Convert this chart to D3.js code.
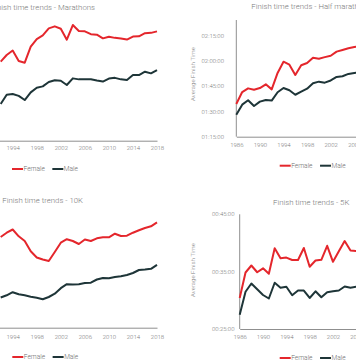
<!DOCTYPE html>
<html>
<head>
<meta charset="utf-8">
<script src="https://cdn.jsdelivr.net/npm/d3@7"></script>
<style>
  html, body { margin: 0; padding: 0; background: #ffffff; }
  svg { display: block; font-family: Roboto, "Noto Sans", sans-serif; font-weight: 300; }
</style>
</head>
<body>
<svg id="chart" width="356" height="364"></svg>
<script>
// ---------- data (minutes) ----------
const yearTicks = [1986, 1990, 1994, 1998, 2002, 2006, 2010, 2014, 2018];
const yearTickLabels = ["1986", "1990", "1994", "1998", "2002", "2006", "2010", "2014", "2018"];

// Marathons (visible years only)
const marathonYears = [1992, 1993, 1994, 1995, 1996, 1997, 1998, 1999, 2000, 2001, 2002, 2003, 2004, 2005,
  2006, 2007, 2008, 2009, 2010, 2011, 2012, 2013, 2014, 2015, 2016, 2017, 2018];
const marathonFemale = [257.4, 261.4, 264.1, 257.8, 256.8, 266.4, 271.0, 273.2, 277.4, 278.6, 277.2, 270.6, 279.4, 275.8,
  275.6, 273.9, 273.6, 271.4, 272.4, 271.7, 271.3, 270.7, 272.5, 272.6, 274.5, 274.7, 275.6];
const marathonMale = [232.0, 237.6, 238.0, 236.9, 234.4, 239.0, 241.8, 242.6, 245.2, 246.3, 246.0, 243.4, 247.4, 246.8,
  246.8, 246.9, 246.1, 245.5, 247.3, 247.7, 246.8, 246.4, 249.4, 249.4, 251.4, 250.4, 252.4];

// Half marathon (visible years only)
const halfYears = [1986, 1987, 1988, 1989, 1990, 1991, 1992, 1993, 1994, 1995, 1996, 1997, 1998, 1999,
  2000, 2001, 2002, 2003, 2004, 2005, 2006, 2007];
const halfFemale = [94.5, 101.6, 103.8, 103.0, 104.0, 106.2, 103.2, 113.0, 119.7, 117.9, 111.8, 117.6, 118.9, 122.0,
  121.5, 122.4, 123.2, 125.7, 126.7, 127.7, 128.5, 129.0];
const halfMale = [88.1, 94.1, 96.7, 93.3, 95.9, 96.9, 96.5, 101.5, 104.0, 102.7, 100.0, 101.8, 103.6, 106.8,
  107.8, 107.2, 108.5, 110.6, 111.0, 112.4, 113.0, 113.2];
const halfTicks = [75, 90, 105, 120, 135];
const halfTickLabels = ["01:15:00", "01:30:00", "01:45:00", "02:00:00", "02:15:00"];

// 10K (visible years only)
const tenKYears = [1992, 1993, 1994, 1995, 1996, 1997, 1998, 1999, 2000, 2001, 2002, 2003, 2004, 2005,
  2006, 2007, 2008, 2009, 2010, 2011, 2012, 2013, 2014, 2015, 2016, 2017, 2018];
const tenKFemale = [63.14, 64.0, 64.64, 63.28, 62.34, 60.28, 59.04, 58.64, 58.34, 60.14, 62.0, 62.7, 62.34, 61.74,
  62.64, 62.34, 62.88, 63.08, 63.08, 63.8, 63.34, 63.4, 64.0, 64.48, 64.94, 65.28, 66.08];
const tenKMale = [51.04, 51.48, 52.1, 51.68, 51.48, 51.2, 51.0, 50.7, 51.14, 51.8, 52.9, 53.7, 53.64, 53.7,
  53.94, 54.0, 54.64, 54.94, 54.9, 55.14, 55.3, 55.54, 55.94, 56.54, 56.64, 56.78, 57.58];

// 5K (visible years only)
const fiveKYears = [1986, 1987, 1988, 1989, 1990, 1991, 1992, 1993, 1994, 1995, 1996, 1997, 1998, 1999,
  2000, 2001, 2002, 2003, 2004, 2005, 2006];
const fiveKFemale = [30.41, 34.85, 36.07, 34.90, 35.58, 34.63, 39.07, 37.33, 37.45, 37.03, 37.03, 39.12, 35.85, 36.94,
  37.07, 39.51, 36.72, 38.55, 40.34, 38.69, 38.60];
const fiveKMale = [27.49, 31.50, 32.93, 31.94, 30.93, 30.32, 33.06, 32.20, 32.36, 30.89, 31.71, 31.71, 30.41, 31.57,
  30.54, 31.42, 31.59, 31.71, 32.41, 32.20, 32.38];
const fiveKTicks = [25, 35, 45];
const fiveKTickLabels = ["00:25:00", "00:35:00", "00:45:00"];

const seriesNames = ["Female", "Male"];

// ---------- style ----------
const COLORS = { Female: "#e4262c", Male: "#1e3538" };
const TEXT = "#7a7a7a";
const AXIS = "#8f8f8f";
const VIEW_W = 356;

// ---------- layout ----------
const charts = [
  { title: "Finish time trends - Marathons", titleX: 95, titleY: 10, titleAnchor: "end",
    years: marathonYears, female: marathonFemale, male: marathonMale,
    xRange: [-35.4, 157], yDomain: [210, 285], yRange: [140.7, 15.7],
    xLabelY: 149.8, legendX: 12, legendY: 169 },
  { title: "Finish time trends - Half marathons", titleX: 251.3, titleY: 8.8, titleAnchor: "start",
    years: halfYears, female: halfFemale, male: halfMale,
    xRange: [236.3, 425.1], yDomain: [75, 135], yRange: [136.7, 36], axisTop: 20,
    yTicks: halfTicks, yTickLabels: halfTickLabels, yLabelRight: 224,
    yTitleX: 195, yTitleY: 74,
    xLabelY: 147.5, legendX: 279.7, legendY: 165.7 },
  { title: "Finish time trends - 10K", titleX: 2.3, titleY: 203, titleAnchor: "start",
    years: tenKYears, female: tenKFemale, male: tenKMale,
    xRange: [-35.4, 157], yDomain: [45, 70], yRange: [327.7, 202.7],
    xLabelY: 338.8, legendX: 12.3, legendY: 357 },
  { title: "Finish time trends - 5K", titleX: 273, titleY: 204.8, titleAnchor: "start",
    years: fiveKYears, female: fiveKFemale, male: fiveKMale,
    xRange: [239.7, 426.3], yDomain: [25, 45], yRange: [329, 214.3], axisTop: 214.3,
    yTicks: fiveKTicks, yTickLabels: fiveKTickLabels, yLabelRight: 234.5,
    yTitleX: 195, yTitleY: 270,
    xLabelY: 339.3, legendX: 279.7, legendY: 358 }
];

const svg = d3.select("#chart");

charts.forEach(c => {
  const g = svg.append("g");
  const x = d3.scaleLinear().domain([1986, 2018]).range(c.xRange);
  const y = d3.scaleLinear().domain(c.yDomain).range(c.yRange);

  // title
  g.append("text")
    .attr("x", c.titleX).attr("y", c.titleY)
    .attr("text-anchor", c.titleAnchor)
    .attr("font-size", 7.8).attr("fill", TEXT)
    .text(c.title);

  // x axis (only ticks whose labels reach into the visible window)
  const shownTicks = yearTicks.filter(t => x(t) > -7 && x(t) < VIEW_W + 7);
  const xAxis = d3.axisBottom(x)
    .tickValues(shownTicks)
    .tickFormat(d => yearTickLabels[yearTicks.indexOf(d)])
    .tickSize(0).tickPadding(0);
  const xa = g.append("g").attr("transform", `translate(0,${c.yRange[0]})`).call(xAxis);
  xa.select(".domain").attr("stroke", AXIS).attr("stroke-width", 1);
  xa.selectAll("text")
    .attr("y", c.xLabelY - c.yRange[0]).attr("dy", null)
    .attr("font-size", 6).attr("fill", TEXT)
    .attr("font-family", "Roboto, 'Noto Sans', sans-serif").attr("font-weight", 300);

  // y axis
  if (c.yTicks) {
    g.append("line")
      .attr("x1", c.xRange[0]).attr("x2", c.xRange[0])
      .attr("y1", c.yRange[0]).attr("y2", c.axisTop)
      .attr("stroke", AXIS).attr("stroke-width", 1);
    g.selectAll(".ytick").data(c.yTicks).enter().append("text")
      .attr("x", c.yLabelRight).attr("y", d => y(d) + 2.1)
      .attr("text-anchor", "end").attr("font-size", 6).attr("fill", TEXT)
      .text((d, i) => c.yTickLabels[i]);
    g.append("text")
      .attr("transform", `translate(${c.yTitleX},${c.yTitleY}) rotate(-90)`)
      .attr("text-anchor", "middle").attr("font-size", 6.1).attr("fill", TEXT)
      .text("Average Finish Time");
  }

  // lines
  const line = d3.line().x(d => x(d[0])).y(d => y(d[1]));
  [["Female", c.female], ["Male", c.male]].forEach(([name, vals]) => {
    g.append("path")
      .datum(c.years.map((yr, i) => [yr, vals[i]]))
      .attr("d", line)
      .attr("fill", "none")
      .attr("stroke", COLORS[name])
      .attr("stroke-width", 2)
      .attr("stroke-linejoin", "round");
  });

  // legend
  const lg = g.append("g").attr("transform", `translate(${c.legendX},${c.legendY})`);
  let lx = 0;
  seriesNames.forEach(name => {
    lg.append("line").attr("x1", lx).attr("x2", lx + 11).attr("y1", 0).attr("y2", 0)
      .attr("stroke", COLORS[name]).attr("stroke-width", 2);
    const t = lg.append("text").attr("x", lx + 11.5).attr("y", 2.3)
      .attr("font-size", 6.6).attr("fill", "#6e6e6e").text(name);
    lx += 11.5 + t.node().getComputedTextLength() + 7.5;
  });
});
</script>
</body>
</html>
